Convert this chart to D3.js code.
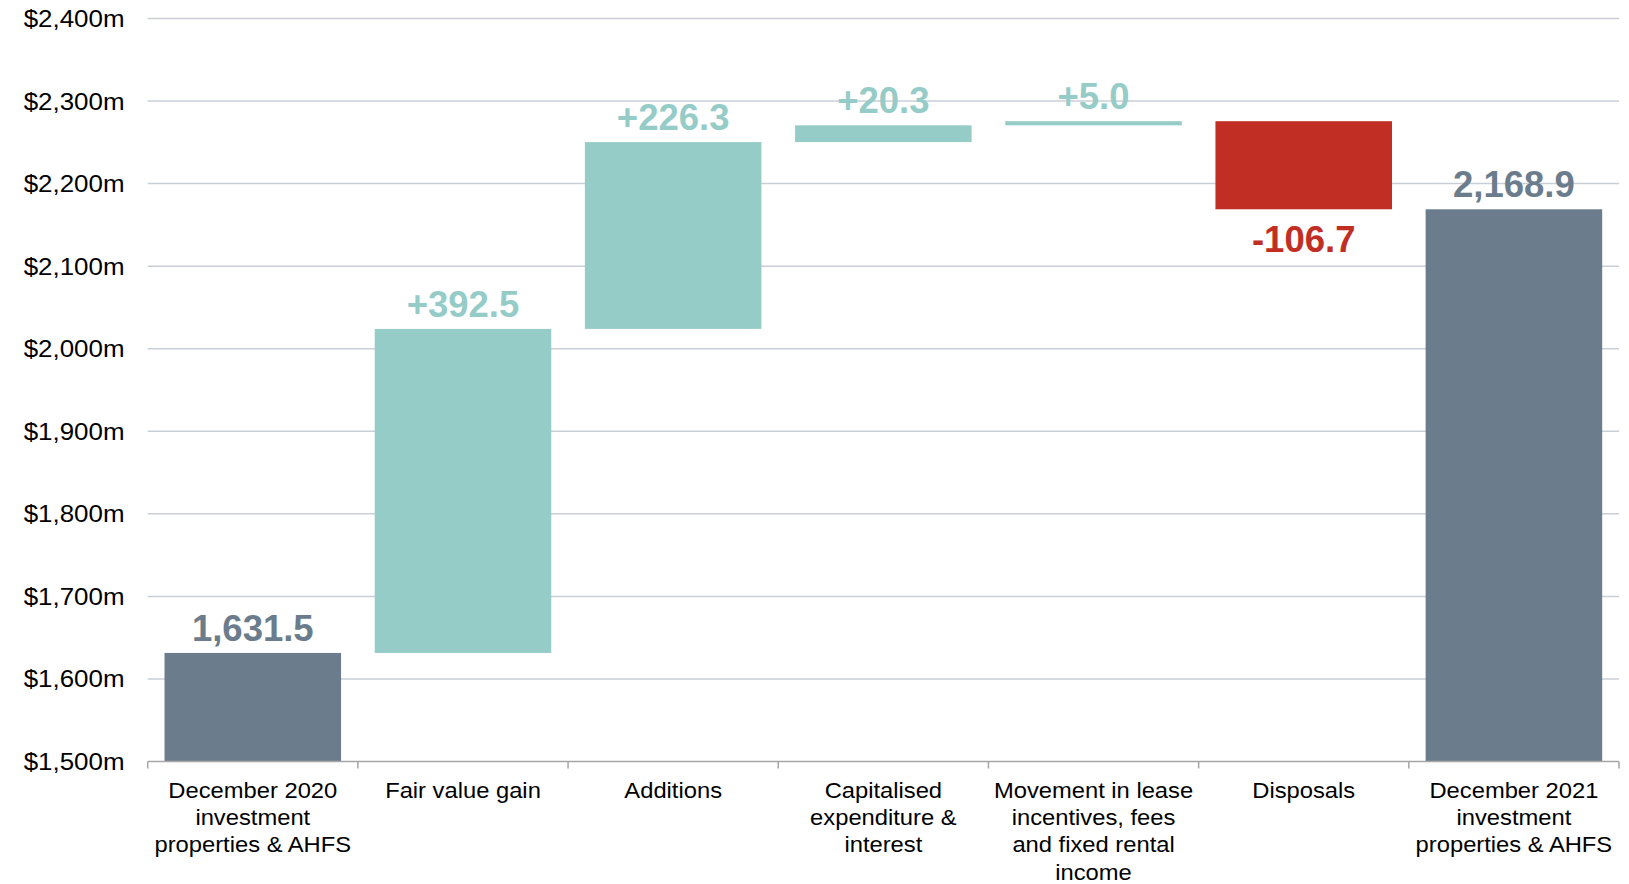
<!DOCTYPE html>
<html>
<head>
<meta charset="utf-8">
<script src="https://cdn.jsdelivr.net/npm/d3@7"></script>
<style>
  body { margin: 0; background: #fff; }
  text { font-family: "Liberation Sans", Arial, sans-serif; }
</style>
</head>
<body>
<div id="chart"></div>
<script>
// waterfall data
var categories = [
  ["December 2020", "investment", "properties & AHFS"],
  ["Fair value gain"],
  ["Additions"],
  ["Capitalised", "expenditure &", "interest"],
  ["Movement in lease", "incentives, fees", "and fixed rental", "income"],
  ["Disposals"],
  ["December 2021", "investment", "properties & AHFS"]
];
var values = [1631.5, 392.5, 226.3, 20.3, 5.0, -106.7, 2168.9];
var kinds = ["total", "delta", "delta", "delta", "delta", "delta", "total"];
var y_ticks = [1500, 1600, 1700, 1800, 1900, 2000, 2100, 2200, 2300, 2400];

var chart_width = 1629;
var chart_height = 884;
var margin = {top: 18.5, right: 10, bottom: 122.5, left: 147.7};
var sx = 1.08; // axis text in the original is slightly stretched

var colors = {total: '#6b7c8c', up: '#96ccc8', down: '#c12e23'};

var locale = d3.formatLocale({decimal: '.', thousands: ',', grouping: [3], currency: ['$', ''], minus: '-'});
var fmt_total = locale.format(',.1f');
var fmt_delta = locale.format('+.1f');
var fmt_axis = locale.format('$,');

// running totals
var running = 0;
var steps = values.map(function(v, i) {
  var d = {i: i, kind: kinds[i], value: v};
  if (kinds[i] === 'total') {
    d.y0 = y_ticks[0];
    d.y1 = v;
    running = v;
    d.color = colors.total;
    d.label = fmt_total(v);
  } else {
    d.y0 = running;
    d.y1 = running + v;
    running += v;
    d.color = v >= 0 ? colors.up : colors.down;
    d.label = fmt_delta(v);
  }
  return d;
});

var svg = d3.select('#chart')
  .append('svg')
  .attr('width', chart_width)
  .attr('height', chart_height);

var x_scale = d3.scaleBand()
  .domain(d3.range(categories.length))
  .range([margin.left, chart_width - margin.right]);

var y_scale = d3.scaleLinear()
  .domain([y_ticks[0], y_ticks[y_ticks.length - 1]])
  .range([chart_height - margin.bottom, margin.top]);

var bar_w = x_scale.bandwidth() * 0.84;
var bar_off = (x_scale.bandwidth() - bar_w) / 2;

// gridlines
svg.append('g')
  .selectAll('line')
  .data(y_ticks.slice(1))
  .enter()
  .append('line')
  .attr('x1', margin.left)
  .attr('x2', chart_width - margin.right)
  .attr('y1', function(d) { return y_scale(d); })
  .attr('y2', function(d) { return y_scale(d); })
  .attr('stroke', '#c8cfd7')
  .attr('stroke-width', 1.5);

// y labels
svg.append('g')
  .selectAll('text')
  .data(y_ticks)
  .enter()
  .append('text')
  .attr('transform', function(d) {
    return 'translate(124.5,' + (y_scale(d) + 8.5) + ') scale(' + sx + ',1)';
  })
  .attr('text-anchor', 'end')
  .attr('font-size', '24px')
  .attr('fill', '#000')
  .text(function(d) { return fmt_axis(d) + 'm'; });

// bars
svg.append('g')
  .selectAll('rect')
  .data(steps)
  .enter()
  .append('rect')
  .attr('x', function(d) { return x_scale(d.i) + bar_off; })
  .attr('y', function(d) { return y_scale(Math.max(d.y0, d.y1)); })
  .attr('width', bar_w)
  .attr('height', function(d) { return Math.abs(y_scale(d.y0) - y_scale(d.y1)); })
  .attr('fill', function(d) { return d.color; });

// x axis line + ticks at band edges
var axis_y = y_scale(y_ticks[0]);
svg.append('line')
  .attr('x1', margin.left)
  .attr('x2', chart_width - margin.right)
  .attr('y1', axis_y)
  .attr('y2', axis_y)
  .attr('stroke', '#a6a6a6')
  .attr('stroke-width', 1.5);

svg.append('g')
  .selectAll('line')
  .data(d3.range(categories.length + 1))
  .enter()
  .append('line')
  .attr('x1', function(d) { return margin.left + d * x_scale.step(); })
  .attr('x2', function(d) { return margin.left + d * x_scale.step(); })
  .attr('y1', axis_y)
  .attr('y2', axis_y + 7)
  .attr('stroke', '#a6a6a6')
  .attr('stroke-width', 1.5);

// category labels
var cat = svg.append('g')
  .selectAll('text')
  .data(categories)
  .enter()
  .append('text')
  .attr('transform', function(d, i) {
    return 'translate(' + (x_scale(i) + x_scale.bandwidth() / 2) + ',' + (axis_y + 36) + ') scale(' + sx + ',1)';
  })
  .attr('text-anchor', 'middle')
  .attr('font-size', '22px')
  .attr('fill', '#000');

cat.selectAll('tspan')
  .data(function(d) { return d; })
  .enter()
  .append('tspan')
  .attr('x', 0)
  .attr('y', function(d, j) { return j * 27.5; })
  .text(function(d) { return d; });

// value labels
svg.append('g')
  .selectAll('text')
  .data(steps)
  .enter()
  .append('text')
  .attr('x', function(d) { return x_scale(d.i) + x_scale.bandwidth() / 2; })
  .attr('y', function(d) {
    return d.value < 0 && d.kind === 'delta'
      ? y_scale(Math.min(d.y0, d.y1)) + 43
      : y_scale(Math.max(d.y0, d.y1)) - 12;
  })
  .attr('text-anchor', 'middle')
  .attr('font-size', '36.5px')
  .attr('font-weight', 'bold')
  .attr('fill', function(d) { return d.color; })
  .text(function(d) { return d.label; });
</script>
</body>
</html>
